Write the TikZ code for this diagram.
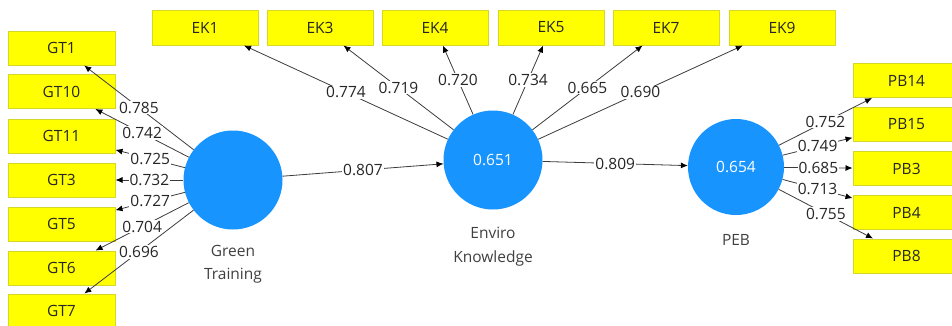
\documentclass[tikz,border=0pt]{standalone}
\usepackage{fontspec}
\setmainfont{Open Sans}
\usetikzlibrary{arrows.meta}
\definecolor{boxy}{RGB}{255,255,0}
\definecolor{boxb}{RGB}{215,215,40}
\definecolor{circ}{RGB}{24,148,255}
\definecolor{lin}{RGB}{60,60,60}
\begin{document}
\begin{tikzpicture}[x=1pt,y=-1pt,
  every node/.style={font=\fontsize{15.5}{18}\selectfont},
  ind/.style={draw=boxb, fill=boxy, minimum width=107pt, minimum height=34pt, inner sep=0pt, line width=1pt, text=black!85},
  lat/.style={circle, fill=circ, minimum size=99pt, inner sep=0pt, text=white},
  arr/.style={draw=lin, line width=0.8pt, -{Latex[length=7pt,width=6pt,color=black]}},
  lbl/.style={fill=white, inner sep=1pt, text=black!85, midway},
  latcap/.style={text=black!75, align=center, font=\fontsize{15.5}{23.5}\selectfont}]
\useasboundingbox (0,0) rectangle (952,325);
\clip (0,0) rectangle (952,325);
% Green Training indicators
\node[ind] (gt1)  at (61.5,48)  {GT1};
\node[ind] (gt10) at (61.5,91.5) {GT10};
\node[ind] (gt11) at (61.5,136) {GT11};
\node[ind] (gt3)  at (61.5,180) {GT3};
\node[ind] (gt5)  at (61.5,224) {GT5};
\node[ind] (gt6)  at (61.5,268) {GT6};
\node[ind] (gt7)  at (61.5,311) {GT7};
% EK indicators
\node[ind, minimum width=106pt, minimum height=35pt] (ek1) at (205,27.5) {EK1};
\node[ind, minimum width=106pt, minimum height=35pt] (ek3) at (320,27.5) {EK3};
\node[ind, minimum width=106pt, minimum height=35pt] (ek4) at (435,27.5) {EK4};
\node[ind, minimum width=106pt, minimum height=35pt] (ek5) at (551,27.5) {EK5};
\node[ind, minimum width=106pt, minimum height=35pt] (ek7) at (666,27.5) {EK7};
\node[ind, minimum width=106pt, minimum height=35pt] (ek9) at (782,27.5) {EK9};
% PB indicators
\node[ind] (pb14) at (906.5,80.5)  {PB14};
\node[ind] (pb15) at (906.5,124)   {PB15};
\node[ind] (pb3)  at (906.5,168.5) {PB3};
\node[ind] (pb4)  at (906.5,212.5) {PB4};
\node[ind] (pb8)  at (906.5,256)   {PB8};
% latent variables
\node[lat] (gtc) at (233,180) {};
\node[lat] (ekc) at (493,160) {0.651};
\node[lat, minimum size=96pt] (pebc) at (736,167) {0.654};
\node[latcap] (gtcap) at (233,264) {Green\\Training};
\node[latcap] (ekcap) at (493,246.5) {Enviro\\Knowledge};
\node[latcap] (pebcap) at (736,240) {PEB};
% inner model
\draw[arr] (gtc) -- node[lbl]{0.807} (ekc);
\draw[arr] (ekc) -- node[lbl]{0.809} (pebc);
% GT loadings
\draw[arr] (gtc) -- node[lbl]{0.785} (gt1);
\draw[arr] (gtc) -- node[lbl]{0.742} (gt10);
\draw[arr] (gtc) -- node[lbl]{0.725} (gt11);
\draw[arr] (gtc) -- node[lbl]{0.732} (gt3);
\draw[arr] (gtc) -- node[lbl]{0.727} (gt5);
\draw[arr] (gtc) -- node[lbl]{0.704} (gt6);
\draw[arr] (gtc) -- node[lbl]{0.696} (gt7);
% EK loadings
\draw[arr] (ekc) -- node[lbl]{0.774} (ek1);
\draw[arr] (ekc) -- node[lbl]{0.719} (ek3);
\draw[arr] (ekc) -- node[lbl]{0.720} (ek4);
\draw[arr] (ekc) -- node[lbl]{0.734} (ek5);
\draw[arr] (ekc) -- node[lbl]{0.665} (ek7);
\draw[arr] (ekc) -- node[lbl]{0.690} (ek9);
% PB loadings
\draw[arr] (pebc) -- node[lbl]{0.752} (pb14);
\draw[arr] (pebc) -- node[lbl]{0.749} (pb15);
\draw[arr] (pebc) -- node[lbl]{0.685} (pb3);
\draw[arr] (pebc) -- node[lbl]{0.713} (pb4);
\draw[arr] (pebc) -- node[lbl]{0.755} (pb8);
\end{tikzpicture}
\end{document}
